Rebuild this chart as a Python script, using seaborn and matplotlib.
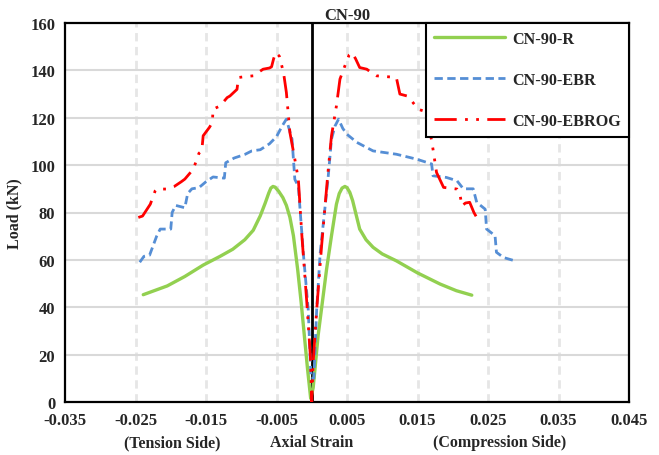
import pandas as pd
import seaborn as sns
import matplotlib.pyplot as plt
from matplotlib.transforms import blended_transform_factory

# --- data ---
r_strain = [-0.0239, -0.0205, -0.0180, -0.0154, -0.0130, -0.0112, -0.0095, -0.0083,
            -0.0073, -0.0066, -0.0061, -0.0058, -0.0055, -0.0052, -0.0047, -0.0041,
            -0.0036, -0.0031, -0.0026, -0.0020, -0.0015, -0.00105, -0.0006, -0.00015,
            0.0002, 0.00046, 0.0009, 0.0015, 0.0021, 0.0028, 0.0035, 0.0039,
            0.0043, 0.0047, 0.0050, 0.0054, 0.0058, 0.0063, 0.0068, 0.0077, 0.0087,
            0.0100, 0.0120, 0.0150, 0.0182, 0.0205, 0.0227]
r_load = [45.3, 49.0, 53.0, 57.8, 61.5, 64.5, 68.5, 72.5,
          78.6, 84.0, 88.2, 90.3, 91.0, 90.7, 89.0, 86.3,
          83.0, 78.0, 70.2, 56.0, 42.0, 28.0, 14.0, 1.5,
          6.0, 14.0, 28.0, 42.0, 56.0, 70.2, 83.5, 88.0,
          90.3, 91.0, 90.5, 88.5, 85.0, 79.0, 73.0, 68.5, 65.3,
          62.5, 59.6, 54.5, 49.8, 47.0, 45.1]

ebr_strain = [-0.0244, -0.0238, -0.0230, -0.0225, -0.0220, -0.0215, -0.0200, -0.0198,
              -0.0193, -0.0180, -0.0176, -0.0170, -0.0160, -0.0150, -0.0140, -0.0124,
              -0.0122, -0.0110, -0.0095, -0.0085, -0.0073, -0.0060, -0.0050, -0.0042,
              -0.0036, -0.0028, -0.0024, -0.0019, -0.0012, -0.0005, -0.0001, 0.0003,
              0.0007, 0.0012, 0.0023, 0.0028, 0.0033, 0.0038, 0.0044, 0.0050, 0.0064,
              0.0087, 0.0120, 0.0149, 0.0170, 0.0172, 0.0191, 0.0206, 0.0215, 0.0229,
              0.0234, 0.0246, 0.0248, 0.0260, 0.0262, 0.0272, 0.0288]
ebr_load = [59.0, 61.5, 62.0, 66.0, 70.0, 73.0, 73.0, 80.0,
            83.0, 82.0, 88.0, 90.0, 90.5, 93.0, 95.0, 94.5,
            101.0, 103.0, 104.5, 106.0, 106.5, 109.0, 112.0, 116.5,
            119.4, 111.0, 94.0, 91.0, 63.0, 39.0, 10.0, 10.0,
            39.0, 63.0, 94.0, 111.0, 116.5, 119.4, 115.5, 113.0, 109.6,
            106.0, 104.6, 102.5, 100.5, 95.5, 94.8, 93.4, 90.0, 90.0,
            84.3, 81.4, 73.0, 70.2, 63.2, 61.0, 59.6]

ebrog_strain = [-0.0246, -0.0240, -0.0229, -0.0222, -0.0220, -0.0206, -0.0195, -0.0185,
                -0.0180, -0.0168, -0.0160, -0.0156, -0.0154, -0.0145, -0.0141, -0.0140,
                -0.0130, -0.0120, -0.0116, -0.0106, -0.0104, -0.0090, -0.0083, -0.0069,
                -0.0060, -0.0057, -0.0054, -0.0051, -0.0046, -0.0040, -0.0036, -0.0031,
                -0.0024, -0.0019, -0.0014, -0.0007, -0.0002, 0.0000, 0.0002, 0.0007,
                0.0014, 0.0023, 0.0028, 0.0035, 0.0040, 0.0047, 0.0053, 0.0057, 0.0062,
                0.0068, 0.0078, 0.0085, 0.0092,
                0.0120, 0.0125, 0.0135, 0.0142, 0.0151, 0.0158, 0.0165, 0.0168, 0.0172,
                0.0177, 0.0187, 0.0206, 0.0210, 0.0213, 0.0218, 0.0224, 0.0230, 0.0234]
ebrog_load = [77.9, 78.5, 83.5, 89.2, 89.9, 89.9, 91.0, 93.0,
              94.1, 98.3, 105.0, 106.0, 112.4, 116.0, 118.0, 123.6,
              125.0, 128.5, 129.2, 132.0, 137.0, 137.5, 137.7, 140.5,
              141.0, 141.5, 145.0, 147.5, 146.0, 139.0, 130.7, 113.8,
              102.5, 94.0, 70.2, 42.0, 19.5, 0.0, 16.7, 39.0,
              66.0, 96.9, 112.4, 125.0, 136.3, 141.9, 146.5, 147.5, 145.0,
              141.2, 140.5, 139.0, 137.7,
              137.0, 130.0, 129.2, 127.0, 123.6, 122.9, 119.0, 113.8, 106.7,
              96.9, 90.6, 89.9, 88.0, 82.8, 84.0, 84.3, 80.0, 77.9]

series = ['CN-90-R', 'CN-90-EBR', 'CN-90-EBROG']
x_ticks = [-0.035, -0.025, -0.015, -0.005, 0.005, 0.015, 0.025, 0.035, 0.045]
y_ticks = [0, 20, 40, 60, 80, 100, 120, 140, 160]

df = pd.concat([
    pd.DataFrame({'Strain': r_strain, 'Load': r_load, 'Series': series[0]}),
    pd.DataFrame({'Strain': ebr_strain, 'Load': ebr_load, 'Series': series[1]}),
    pd.DataFrame({'Strain': ebrog_strain, 'Load': ebrog_load, 'Series': series[2]}),
])

# --- styling ---
sns.set_style("white")
plt.rcParams['font.family'] = ['Liberation Serif', 'DejaVu Serif']
plt.rcParams['font.weight'] = 'bold'

styles = {
    'CN-90-R': dict(color='#92D050', lw=2.4, linestyle='-'),
    'CN-90-EBR': dict(color='#558ED5', lw=2.0, linestyle=(0, (3, 1.6))),
    'CN-90-EBROG': dict(color='#FF0000', lw=2.0, linestyle=(0, (8, 3, 1, 3, 1, 3))),
}

fig = plt.figure(figsize=(6.59, 4.56), dpi=100)
ax = fig.add_axes([65 / 659, 1 - 403 / 456, 564 / 659, 379 / 456])

ax.axvline(0, color='black', lw=2, zorder=1.5)

for name in series:
    sub = df[df['Series'] == name]
    sns.lineplot(data=sub, x='Strain', y='Load', ax=ax, sort=False, estimator=None,
                 label=name, zorder=3, **styles[name])

ax.set_xlim(-0.035, 0.045)
ax.set_ylim(0, 160)
ax.set_xticks(x_ticks)
ax.set_xticklabels([f'{t:.3f}' for t in x_ticks])
ax.set_yticks(y_ticks)
ax.tick_params(length=0, labelsize=12, pad=7)
for lab in ax.get_xticklabels() + ax.get_yticklabels():
    lab.set_fontweight('bold')

# grid: dashed verticals, solid horizontals
for xt in x_ticks[1:-1]:
    ax.axvline(xt, color='#E6E6E6', lw=2, linestyle=(0, (3, 2)), zorder=0.5)
for yt in y_ticks[1:-1]:
    ax.axhline(yt, color='#D9D9D9', lw=1.5, zorder=0.5)

for sp in ax.spines.values():
    sp.set_color('black')
    sp.set_linewidth(1.6)

ax.set_xlabel('')
ax.set_ylabel('Load (kN)', fontsize=11.5, fontweight='bold')
ax.yaxis.set_label_coords(-0.076, 0.5)
ax.set_title('CN-90', fontsize=12, fontweight='bold', pad=3)

trans = blended_transform_factory(ax.transData, ax.transAxes)
for xpos, txt in [(-0.0198, '(Tension Side)'), (0.0, 'Axial Strain'),
                  (0.0267, '(Compression Side)')]:
    ax.text(xpos, -0.106, txt, transform=trans, ha='center', va='center',
            fontsize=11.5, fontweight='bold')

leg = ax.legend(loc='upper right', borderaxespad=0, fontsize=11.6, handlelength=4.4,
                handletextpad=0.45, labelspacing=1.55, borderpad=0.5,
                fancybox=False, framealpha=1, edgecolor='black')
leg.get_frame().set_linewidth(1.5)
for t in leg.get_texts():
    t.set_fontweight('bold')

fig.savefig('out.png', dpi=100)
plt.close(fig)
